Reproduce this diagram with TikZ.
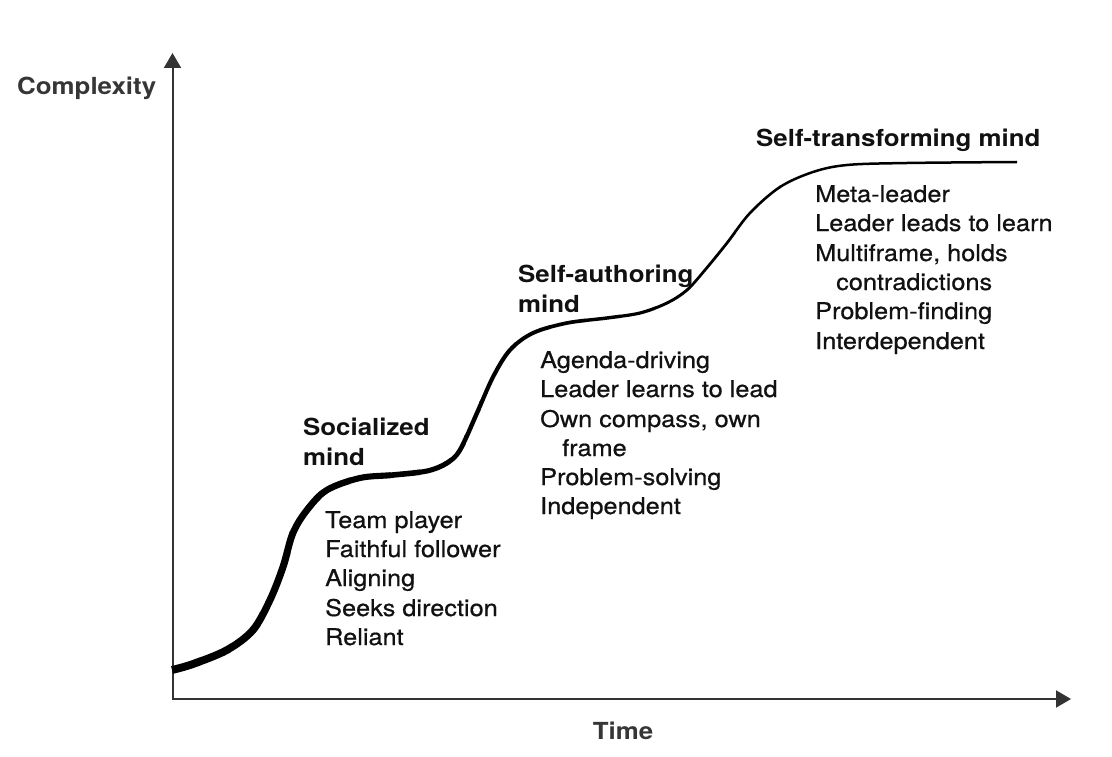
\documentclass[tikz,border=0pt]{standalone}
\usepackage{fontspec}
\setmainfont{TeX Gyre Heros}[FakeStretch=1.1]
\newfontfamily\itemfont{TeX Gyre Heros}[FakeStretch=1.1, FakeBold=0.6]
\usetikzlibrary{arrows.meta}
\definecolor{txt}{HTML}{111111}
\definecolor{axisc}{HTML}{333333}
\definecolor{axlab}{HTML}{363636}
\pgfdeclareradialshading{vign}{\pgfpoint{0bp}{0bp}}{color(0bp)=(white); color(38bp)=(white); color(50bp)=(black!5); color(72bp)=(black!9)}
\tikzset{
  item/.style={anchor=base west, inner sep=0pt, text=txt, font=\itemfont\fontsize{23}{28}\selectfont},
  head/.style={item, font=\fontsize{23.5}{28}\selectfont\bfseries},
  axlabel/.style={inner sep=0pt, text=axlab, font=\fontsize{23.5}{28}\selectfont\bfseries},
  axisline/.style={draw=axisc, line width=2pt, {Triangle[length=15pt,width=17pt]}-{Triangle[length=15pt,width=17pt]}},
  curve/.style={draw=black, line cap=butt, line join=round}
}
\begin{document}
\begin{tikzpicture}[x=1pt,y=-1pt]
\useasboundingbox (0,0) rectangle (1112,757);
\shade[shading=vign] (0,0) rectangle (1112,757);
% axes
\coordinate (O) at (172.5,699);
\coordinate (ytip) at (172.5,53);
\coordinate (xtip) at (1071,699);
\draw[axisline] (ytip) -- (O) -- (xtip);
\node[axlabel, anchor=base west] (complexity) at (17,95) {Complexity};
\node[axlabel, anchor=base] (time) at (623,739) {Time};
% developmental curve (tapering stroke)
\foreach \xa/\xb/\w in {168/200/7.9, 200/230/7.7, 230/260/7.5, 260/290/7.1, 290/320/6.8, 320/350/6.5, 350/390/6.1, 390/420/5.6, 420/450/5.1, 450/465/4.7, 465/480/4.4, 480/515/4.15, 515/550/3.95, 550/585/3.7, 585/620/3.45, 620/655/3.2, 655/690/2.95, 690/735/2.75, 735/780/2.6, 780/1030/2.5}{
  \begin{scope}
    \clip (\xa-0.4,0) rectangle (\xb+0.4,757);
    \draw[curve, line width=\w pt] plot[smooth, tension=0.55] coordinates {(172,670) (193,664) (227,650) (253,630) (270,600) (283,567) (293,533) (307,510) (327,490) (360,478) (393,475) (427,471) (447,463) (460,450) (477,413) (493,377) (510,350) (533,333) (567,323) (607,318) (640,313) (667,303) (687,290) (705,270) (727,243) (750,213) (780,187) (813,172) (847,165) (907,163) (1017,162)};
  \end{scope}
}
% socialized mind
\node[head] (soc1) at (303,435) {Socialized};
\node[head] (soc2) at (303,465) {mind};
\node[item] (s1) at (325,528) {Team player};
\node[item] (s2) at (325,557) {Faithful follower};
\node[item] (s3) at (325,586) {Aligning};
\node[item] (s4) at (325,616) {Seeks direction};
\node[item] (s5) at (325,645) {Reliant};
% self-authoring mind
\node[head] (sa1) at (518,282) {Self-authoring};
\node[head] (sa2) at (518,312) {mind};
\node[item] (a1) at (540,368) {Agenda-driving};
\node[item] (a2) at (540,397) {Leader learns to lead};
\node[item] (a3) at (540,427) {Own compass, own};
\node[item] (a4) at (562,456) {frame};
\node[item] (a5) at (540,485) {Problem-solving};
\node[item] (a6) at (540,514) {Independent};
% self-transforming mind
\node[head] (st) at (756,147) {Self-transforming mind};
\node[item] (t1) at (815,202) {Meta-leader};
\node[item] (t2) at (815,231) {Leader leads to learn};
\node[item] (t3) at (815,261) {Multiframe, holds};
\node[item] (t4) at (836,290) {contradictions};
\node[item] (t5) at (815,319) {Problem-finding};
\node[item] (t6) at (815,349) {Interdependent};
\end{tikzpicture}
\end{document}
